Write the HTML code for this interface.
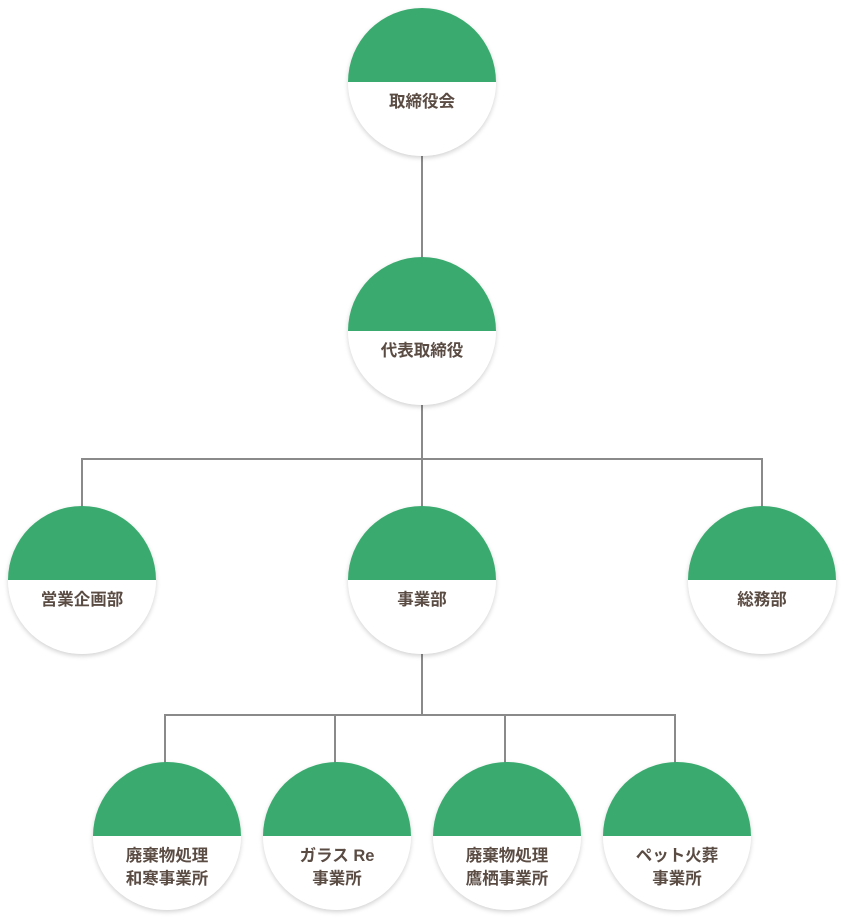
<!DOCTYPE html>
<html><head><meta charset="utf-8"><style>
body{margin:0;width:844px;height:918px;background:#fff;position:relative;overflow:hidden;font-family:"Liberation Sans","Noto Sans CJK JP",sans-serif}
.c{position:absolute;width:148px;height:148px;border-radius:50%;overflow:hidden;background:linear-gradient(#3aaa6f 0,#3aaa6f 50%,#fff 50%);box-shadow:0 2px 5px rgba(0,0,0,.18)}
.t{position:absolute;left:0;right:0;top:83px;text-align:center;color:#5a4b43;font-weight:bold;font-size:16.5px;line-height:23px}
.t1{top:83px}
.l{position:absolute;background:#8a8a8a}
</style></head><body>
<div class="l" style="left:421px;top:150px;width:2px;height:110px"></div>
<div class="l" style="left:421px;top:400px;width:2px;height:110px"></div>
<div class="l" style="left:81px;top:458px;width:682px;height:2px"></div>
<div class="l" style="left:81px;top:458px;width:2px;height:52px"></div>
<div class="l" style="left:761px;top:458px;width:2px;height:52px"></div>
<div class="l" style="left:421px;top:650px;width:2px;height:66px"></div>
<div class="l" style="left:164px;top:714px;width:512px;height:2px"></div>
<div class="l" style="left:164px;top:714px;width:2px;height:52px"></div>
<div class="l" style="left:334px;top:714px;width:2px;height:52px"></div>
<div class="l" style="left:504px;top:714px;width:2px;height:52px"></div>
<div class="l" style="left:674px;top:714px;width:2px;height:52px"></div>

<div class="c" style="left:348px;top:8px"><div class="t t1">取締役会</div></div>
<div class="c" style="left:348px;top:257px"><div class="t t1">代表取締役</div></div>
<div class="c" style="left:8px;top:506px"><div class="t t1">営業企画部</div></div>
<div class="c" style="left:348px;top:506px"><div class="t t1">事業部</div></div>
<div class="c" style="left:688px;top:506px"><div class="t t1">総務部</div></div>
<div class="c" style="left:93px;top:762px"><div class="t">廃棄物処理<br>和寒事業所</div></div>
<div class="c" style="left:263px;top:762px"><div class="t">ガラス Re<br>事業所</div></div>
<div class="c" style="left:433px;top:762px"><div class="t">廃棄物処理<br>鷹栖事業所</div></div>
<div class="c" style="left:603px;top:762px"><div class="t">ペット火葬<br>事業所</div></div>
</body></html>
